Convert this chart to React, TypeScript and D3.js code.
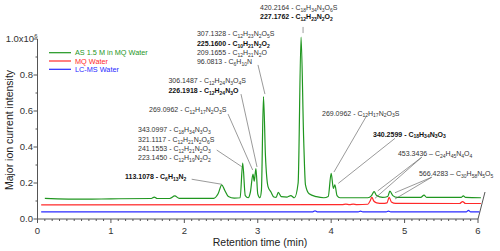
import React, { useEffect, useRef } from 'react';
import * as d3 from 'd3';

const SERIES = ['AS 1.5 M in MQ Water', 'MQ Water', 'LC-MS Water'];
const COLORS = ['#1f961f', '#ff2a2a', '#2a2aff'];

// retention time (min), intensity (x10^6)
const asWater: [number, number][] = [
  [0.1, 0.115], [0.65, 0.11], [1.0, 0.112], [1.55, 0.114], [1.59, 0.122], [1.63, 0.114],
  [1.8, 0.114], [1.87, 0.128], [1.93, 0.115], [2.4, 0.115], [2.46, 0.14], [2.51, 0.19],
  [2.55, 0.16], [2.6, 0.125], [2.68, 0.116], [2.76, 0.118], [2.795, 0.31], [2.83, 0.13],
  [2.87, 0.118], [2.9, 0.15], [2.935, 0.25], [2.952, 0.21], [2.975, 0.28], [3.0, 0.14],
  [3.03, 0.118], [3.05, 0.16], [3.078, 0.68], [3.105, 0.35], [3.14, 0.18], [3.18, 0.15],
  [3.22, 0.122], [3.25, 0.12], [3.28, 0.148], [3.32, 0.124], [3.4, 0.122], [3.45, 0.13],
  [3.5, 0.118], [3.55, 0.2], [3.59, 1.01], [3.625, 0.45], [3.65, 0.19], [3.7, 0.14],
  [3.8, 0.124], [3.9, 0.118], [3.96, 0.125], [4.0, 0.254], [4.03, 0.17], [4.05, 0.19],
  [4.08, 0.13], [4.12, 0.118], [4.5, 0.118], [4.55, 0.13], [4.585, 0.152], [4.62, 0.13],
  [4.7, 0.12], [4.77, 0.125], [4.8, 0.155], [4.84, 0.13], [4.9, 0.12], [5.22, 0.12],
  [5.265, 0.133], [5.3, 0.12], [5.77, 0.12], [5.8, 0.128], [5.83, 0.12], [6.04, 0.118],
];
const mqWater: [number, number][] = [
  [0.05, 0.078], [4.15, 0.08], [4.2, 0.083], [4.25, 0.08], [4.3, 0.083], [4.35, 0.08],
  [4.5, 0.082], [4.53, 0.1], [4.555, 0.12], [4.58, 0.1], [4.62, 0.09], [4.7, 0.087],
  [4.76, 0.09], [4.79, 0.12], [4.82, 0.095], [4.88, 0.087], [5.75, 0.086], [5.79, 0.097],
  [5.83, 0.086], [6.04, 0.086],
];
const lcmsWater: [number, number][] = [
  [0.05, 0.04], [3.75, 0.04], [3.78, 0.045], [3.81, 0.04], [4.37, 0.04], [4.4, 0.044],
  [4.43, 0.04], [4.75, 0.04], [4.78, 0.044], [4.81, 0.04], [5.84, 0.04], [5.87, 0.048],
  [5.9, 0.04], [6.02, 0.04],
];

const X_TICKS = [0, 1, 2, 3, 4, 5, 6];
const Y_TICKS = [0, 0.2, 0.4, 0.6, 0.8, 1.0];
const Y_LABELS = ['0.0', '0.2', '0.4', '0.6', '0.8', '1.0x10'];

// label anchor [t, v], text lines [text, bold], leader lines [[t,v],[t,v]]
const ANNOTATIONS: { at: [number, number]; lines: [string, boolean][]; leaders: [number, number][][] }[] = [
  { at: [3.031, 1.161], lines: [['420.2164 - C18H34N3O6S', false], ['227.1762 - C12H23N2O2', true]], leaders: [[[3.617, 1.067], [3.617, 1.033]]] },
  { at: [2.172, 1.014], lines: [['307.1328 - C12H23N2O5S', false], ['225.1600 - C10H21N2O2', true], ['209.1655 - C12H21N2O', false], ['96.0813 - C6H10N', false]], leaders: [[[3.003, 0.856], [3.098, 0.694]]] },
  { at: [1.784, 0.753], lines: [['306.1487 - C12H24N3O4S', false], ['226.1918 - C12H24N3O', true]], leaders: [[[2.772, 0.694], [2.99, 0.289]]] },
  { at: [1.519, 0.592], lines: [['269.0962 - C12H17N2O3S', false]], leaders: [[[2.595, 0.583], [2.931, 0.272]]] },
  { at: [1.369, 0.481], lines: [['343.0997 - C18H34N3O3', false], ['321.1117 - C12H21N2O6S', false], ['241.1553 - C12H21N2O3', false], ['223.1450 - C12H19N2O2', false]], leaders: [[[2.441, 0.383], [2.781, 0.291]]] },
  { at: [1.192, 0.222], lines: [['113.1078 - C6H13N2', true]], leaders: [[[2.1, 0.221], [2.509, 0.193]]] },
  { at: [3.875, 0.575], lines: [['269.0962 - C12H17N2O3S', false]], leaders: [[[4.474, 0.567], [4.038, 0.261]]] },
  { at: [4.57, 0.458], lines: [['340.2599 - C18H34N3O3', true]], leaders: [[[4.869, 0.448], [4.097, 0.198]]] },
  { at: [4.91, 0.35], lines: [['453.3436 \u2013 C24H45N4O4', false]], leaders: [[[5.233, 0.343], [4.634, 0.156]], [[5.233, 0.343], [4.597, 0.115]]] },
  { at: [5.196, 0.239], lines: [['566.4283 \u2013 C30H58N5O5', false]], leaders: [[[5.369, 0.232], [4.869, 0.146]], [[5.369, 0.232], [4.869, 0.111]]] },
];

const FONT = '"Liberation Sans", Arial, sans-serif';

function formulaText(g: any, x: number, y: number, str: string, bold: boolean) {
  const t = g.append('text').attr('x', x).attr('y', y).attr('font-size', 7)
    .attr('font-weight', bold ? 700 : 400).attr('fill', bold ? '#111' : '#333');
  const m = str.match(/^(\S+ \S+ )(.*)$/);
  t.append('tspan').text(m ? m[1] : str);
  if (!m) return;
  let shifted = false;
  for (const [, el, n] of m[2].matchAll(/([A-Z][a-z]?)(\d*)/g)) {
    t.append('tspan').attr('dy', shifted ? -1.8 : 0).text(el);
    shifted = false;
    if (n) {
      t.append('tspan').attr('dy', 1.8).attr('font-size', 5).text(n);
      shifted = true;
    }
  }
}

function Chromatogram() {
  const ref = useRef<SVGSVGElement>(null);
  useEffect(() => {
    const svg = d3.select(ref.current);
    svg.selectAll('*').remove();
    const x = d3.scaleLinear().domain([0, 6]).range([37.5, 478]);
    const y = d3.scaleLinear().domain([0, 1]).range([219, 39]);
    const axis = '#555';

    // axes
    svg.append('line').attr('x1', x(0)).attr('x2', x(6)).attr('y1', y(0)).attr('y2', y(0)).attr('stroke', axis);
    svg.append('line').attr('x1', x(0)).attr('x2', x(0)).attr('y1', y(0)).attr('y2', y(1)).attr('stroke', axis);
    svg.append('line').attr('x1', x(6)).attr('x2', x(6) + 7).attr('y1', y(0)).attr('y2', y(0) - 27).attr('stroke', axis);
    d3.range(0, 60.5).map(i => i / 10).forEach(t => {
      const major = Math.abs(t - Math.round(t)) < 1e-6;
      svg.append('line').attr('x1', x(t)).attr('x2', x(t)).attr('y1', y(0)).attr('y2', y(0) + (major ? 4 : 2)).attr('stroke', axis);
    });
    d3.range(0, 10.5).map(i => i / 10).forEach((v, i) => {
      const major = i % 2 === 0;
      svg.append('line').attr('x1', x(0)).attr('x2', x(0) - (major ? 4 : 2)).attr('y1', y(v)).attr('y2', y(v)).attr('stroke', axis);
    });
    X_TICKS.forEach(t => {
      svg.append('text').attr('x', x(t)).attr('y', y(0) + 15).attr('text-anchor', 'middle')
        .attr('font-size', 9.5).attr('fill', '#333').attr('font-family', FONT).text(t);
    });
    Y_TICKS.forEach((v, i) => {
      const tx = svg.append('text').attr('x', i === Y_TICKS.length - 1 ? x(0) : x(0) - 4.5).attr('y', y(v) + 3.4)
        .attr('text-anchor', 'end').attr('font-size', 9.5).attr('fill', '#333').attr('font-family', FONT);
      tx.append('tspan').text(Y_LABELS[i]);
      if (i === Y_TICKS.length - 1) tx.append('tspan').attr('dy', -4).attr('font-size', 6).text('6');
    });
    svg.append('text').attr('x', 260).attr('y', 246).attr('text-anchor', 'middle').attr('font-size', 10.5)
      .attr('fill', '#222').attr('font-family', FONT).text('Retention time (min)');
    svg.append('text').attr('transform', 'translate(13,130) rotate(-90)').attr('text-anchor', 'middle')
      .attr('font-size', 10.5).attr('fill', '#222').attr('font-family', FONT).text('Major ion current intensity');

    // traces
    const line = d3.line<[number, number]>().x(d => x(d[0])).y(d => y(d[1])).curve(d3.curveMonotoneX);
    [lcmsWater, mqWater, asWater].forEach((data, i) => {
      svg.append('path').datum(data).attr('fill', 'none').attr('stroke', COLORS[2 - i])
        .attr('stroke-width', 1.2).attr('d', line);
    });

    // annotations
    const ann = svg.append('g').attr('font-family', FONT);
    ANNOTATIONS.forEach(a => {
      a.lines.forEach(([s, b], i) => formulaText(ann, x(a.at[0]), y(a.at[1]) + i * 9.3, s, b));
      a.leaders.forEach(([p, q]) => {
        ann.append('line').attr('x1', x(p[0])).attr('y1', y(p[1])).attr('x2', x(q[0])).attr('y2', y(q[1]))
          .attr('stroke', '#555').attr('stroke-width', 0.6);
      });
    });

    // legend
    const lg = svg.append('g').attr('font-family', FONT);
    SERIES.forEach((s, i) => {
      const ly = 52.7 + i * 8.3;
      lg.append('line').attr('x1', 49).attr('x2', 71).attr('y1', ly).attr('y2', ly).attr('stroke', COLORS[i]).attr('stroke-width', 1.2);
      lg.append('text').attr('x', 75).attr('y', ly + 2.6).attr('font-size', 7.3).attr('fill', COLORS[i]).text(s);
    });
  }, []);
  return <svg ref={ref} width={500} height={251} style={{ position: 'absolute', left: 0, top: 0, background: '#fff' }} />;
}

export default function App() {
  return <Chromatogram />;
}
